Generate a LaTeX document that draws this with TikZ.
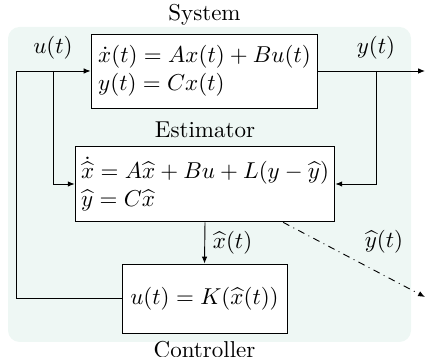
\documentclass[tikz,border=0pt]{standalone}
\usepackage{amsmath,amssymb}
\usepackage{xcolor}
\usetikzlibrary{arrows.meta,calc,positioning}
\definecolor{mint}{HTML}{EEF7F4}

\begin{document}
\begin{tikzpicture}[x=0.435pt,y=0.435pt,>={Latex[length=3pt,width=2.4pt]},
  block/.style={draw,fill=white,align=left,inner sep=2pt}]
\useasboundingbox (0,0) rectangle (430,357);
% background
\fill[mint,rounded corners=5pt] (8,15) rectangle (411,330);

% blocks
\node[block,minimum width=98.7pt,minimum height=32.2pt,label=above:System]
  (sys) at (204.5,286) {$\dot{x}(t) = Ax(t) + Bu(t)$\\$y(t) = Cx(t)$};
\node[block,minimum width=113pt,minimum height=33pt,label=above:Estimator]
  (est) at (205,173) {$\dot{\widehat{x}} = A\widehat{x} + Bu + L(y - \widehat{y})$\\$\widehat{y} = C\widehat{x}$};
\node[block,minimum width=71.8pt,minimum height=30pt,label=below:Controller]
  (ctrl) at (204.5,58.5) {$u(t) = K(\widehat{x}(t))$};

% junctions
\coordinate (fb) at (16,0);
\coordinate (ujunc) at (53,286);
\coordinate (yjunc) at (376,286);
\coordinate (out) at (425,286);
\coordinate (yhatend) at (425,60);
\coordinate (yhatstart) at ($(est.south west)!0.8!(est.south east)$);

% signals
\draw[->] (ctrl.west) -- (ctrl.west -| fb) |- (sys.west);
\draw[->] (ujunc) |- (est.west);
\draw[->] (sys.east) -- (out);
\draw[->] (yjunc) |- (est.east);
\draw[->] (est.south) -- (ctrl.north)
  node[midway,right] (xhatlbl) {$\widehat{x}(t)$};
\draw[->,dash dot] (yhatstart) -- (yhatend);

% labels
\node (ulbl) at (53,309) {$u(t)$};
\node (ylbl) at (376,309) {$y(t)$};
\node (yhatlbl) at (384,115) {$\widehat{y}(t)$};
\end{tikzpicture}
\end{document}
